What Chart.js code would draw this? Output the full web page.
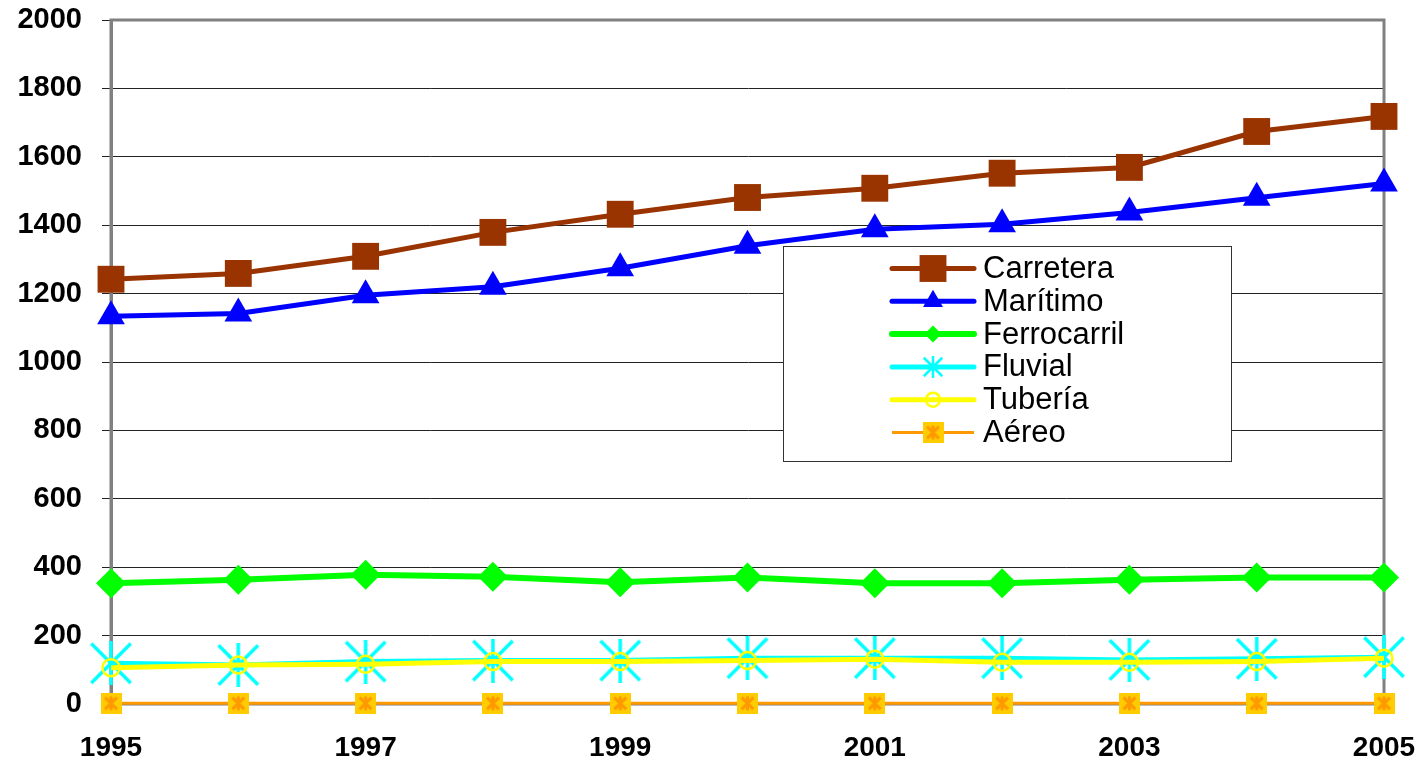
<!DOCTYPE html>
<html lang="es">
<head>
<meta charset="utf-8">
<title>Transporte de mercancías 1995-2005</title>
<script src="https://cdn.jsdelivr.net/npm/chart.js@4.4.1/dist/chart.umd.min.js"></script>
<style>
  html, body { margin: 0; padding: 0; background: #fff; }
  #wrap { width: 1425px; height: 763px; position: relative; }
</style>
</head>
<body>
<div id="wrap"><canvas id="chart"></canvas></div>
<script>
// Años (eje X)
const years = ['1995', '1996', '1997', '1998', '1999', '2000', '2001', '2002', '2003', '2004', '2005'];

// Series por modo de transporte
const carretera   = [1242, 1259, 1309, 1379, 1432, 1481, 1508, 1552, 1569, 1674, 1718];
const maritimo    = [1134, 1142, 1195, 1220, 1274, 1340, 1388, 1403, 1437, 1480, 1522];
const ferrocarril = [353, 363, 378, 372, 356, 370, 353, 353, 363, 370, 370];
const fluvial     = [119, 114, 124, 127, 127, 134, 134, 134, 129, 132, 137];
const tuberia     = [106, 114, 116, 124, 124, 127, 131, 122, 122, 124, 134];
const aereo       = [2, 2, 2, 2, 2, 2, 2, 2, 2, 2, 2];

// Eje Y
const yMin = 0, yMax = 2000, yStep = 200;

const FONT = '"Liberation Sans", Arial, Helvetica, sans-serif';

// Marcador asterisco (vertical + aspa)
function asterisk(size, lw, color) {
  const c = document.createElement('canvas');
  c.width = size; c.height = size;
  const g = c.getContext('2d');
  const m = lw / 2 + 0.5, e = size - m, h = size / 2;
  g.strokeStyle = color; g.lineWidth = lw; g.lineCap = 'butt';
  g.beginPath();
  g.moveTo(h, 0); g.lineTo(h, size);
  g.moveTo(m, m); g.lineTo(e, e);
  g.moveTo(e, m); g.lineTo(m, e);
  g.stroke();
  return c;
}

// Marcador cuadrado dorado con asterisco naranja
function boxedAsterisk(size, fill, color) {
  const c = document.createElement('canvas');
  c.width = size; c.height = size;
  const g = c.getContext('2d');
  g.fillStyle = fill; g.fillRect(0, 0, size, size);
  const p = size * 0.22, h = size / 2;
  g.strokeStyle = color; g.lineWidth = 3;
  g.beginPath();
  g.moveTo(h, p - 1); g.lineTo(h, size - p + 1);
  g.moveTo(p, p); g.lineTo(size - p, size - p);
  g.moveTo(size - p, p); g.lineTo(p, size - p);
  g.stroke();
  return c;
}

const starBig = asterisk(44, 3.5, '#00FFFF');
const starSmall = asterisk(22, 2.5, '#00FFFF');
const airBig = boxedAsterisk(21, '#FFCC00', '#FF9900');
const airSmall = boxedAsterisk(21, '#FFCC00', '#FF9900');

const series = [
  { label: 'Carretera', data: carretera, color: '#993300', width: 5, style: 'rect', radius: 19, lgStyle: 'rect', lgRadius: 19, fill: '#993300', cap: 'round' },
  { label: 'Marítimo', data: maritimo, color: '#0000FF', width: 5, style: 'triangle', radius: 16, lgStyle: 'triangle', lgRadius: 11.5, fill: '#0000FF', cap: 'round' },
  { label: 'Ferrocarril', data: ferrocarril, color: '#00FF00', width: 6, style: 'rectRot', radius: 15, lgStyle: 'rectRot', lgRadius: 8.5, fill: '#00FF00', cap: 'round' },
  { label: 'Fluvial', data: fluvial, color: '#00FFFF', width: 5, style: starBig, radius: 20, lgStyle: starSmall, lgRadius: 11, fill: '#00FFFF', cap: 'round' },
  { label: 'Tubería', data: tuberia, color: '#FFFF00', width: 5, style: 'circle', radius: 8.5, lgStyle: 'circle', lgRadius: 7, fill: 'rgba(0,0,0,0)', cap: 'round' },
  { label: 'Aéreo', data: aereo, color: '#FF9900', width: 3, style: airBig, radius: 10, lgStyle: airSmall, lgRadius: 10, fill: '#FFCC00', cap: 'butt' }
];

const datasets = series.map((s, i) => ({
  label: s.label,
  data: s.data,
  borderColor: s.color,
  borderWidth: s.width,
  backgroundColor: s.fill,
  pointStyle: s.style,
  pointRadius: s.radius,
  pointHoverRadius: s.radius,
  pointBackgroundColor: s.fill,
  pointBorderColor: s.color,
  pointBorderWidth: s.style === 'circle' ? 2.5 : 0,
  tension: 0,
  fill: false,
  clip: false,
  order: series.length - i
}));

// Borde gris del área de trazado
const plotFrame = {
  id: 'plotFrame',
  beforeDatasetsDraw(chart) {
    const { ctx, chartArea: a } = chart;
    ctx.save();
    ctx.strokeStyle = '#808080';
    ctx.lineWidth = 3;
    ctx.strokeRect(a.left, a.top, a.right - a.left, a.bottom - a.top);
    ctx.restore();
  }
};

// Leyenda con línea y marcador, dentro del área de trazado
const boxLegend = {
  id: 'boxLegend',
  afterDraw(chart) {
    const ctx = chart.ctx;
    const bx = 783, by = 246, bw = 448, bh = 215;
    ctx.save();
    ctx.fillStyle = '#fff';
    ctx.fillRect(bx, by, bw, bh);
    ctx.strokeStyle = '#333';
    ctx.lineWidth = 1;
    ctx.strokeRect(bx + 0.5, by + 0.5, bw, bh);
    const rowY0 = 268.5, rowH = 32.8;
    series.forEach((s, i) => {
      const y = rowY0 + i * rowH;
      ctx.strokeStyle = s.color;
      ctx.lineWidth = s.width;
      ctx.lineCap = s.cap;
      ctx.beginPath();
      ctx.moveTo(892, y);
      ctx.lineTo(974, y);
      ctx.stroke();
      ctx.fillStyle = s.fill;
      ctx.strokeStyle = s.color;
      ctx.lineWidth = s.lgStyle === 'circle' ? 2.5 : 0;
      Chart.helpers.drawPoint(ctx, {
        pointStyle: s.lgStyle,
        radius: s.lgRadius,
        rotation: 0,
        borderWidth: s.lgStyle === 'circle' ? 2.5 : 0
      }, 933, y);
      ctx.fillStyle = '#000';
      ctx.font = '31px ' + FONT;
      ctx.textAlign = 'left';
      ctx.textBaseline = 'middle';
      ctx.fillText(s.label, 983, y + 1);
    });
    ctx.restore();
  }
};

new Chart(document.getElementById('chart'), {
  type: 'line',
  data: { labels: years, datasets },
  plugins: [plotFrame, boxLegend],
  options: {
    responsive: true,
    maintainAspectRatio: false,
    devicePixelRatio: 1,
    animation: false,
    layout: { autoPadding: false, padding: { top: 20, right: 41, bottom: 0, left: 0 } },
    plugins: {
      legend: { display: false },
      tooltip: { enabled: false },
      title: { display: false }
    },
    scales: {
      x: {
        type: 'category',
        offset: false,
        grid: { display: false, drawTicks: false, tickLength: 0 },
        border: { display: false },
        ticks: {
          autoSkip: false,
          maxRotation: 0,
          minRotation: 0,
          padding: 27,
          color: '#000',
          font: { family: FONT, size: 28, weight: 'bold' },
          callback: (v, i) => (i % 2 === 0 ? years[i] : '')
        },
        afterFit(scale) {
          scale.height = 59;
          scale.paddingLeft = 0;
          scale.paddingRight = 0;
        }
      },
      y: {
        min: yMin,
        max: yMax,
        grid: { color: '#222', lineWidth: 1, tickLength: 9, tickColor: '#222', tickWidth: 1 },
        border: { display: true, color: '#808080', width: 3 },
        ticks: {
          stepSize: yStep,
          padding: 20,
          color: '#000',
          font: { family: FONT, size: 29, weight: 'bold' },
          callback: (v) => String(v)
        },
        afterFit(scale) {
          scale.width = 111;
          scale.paddingTop = 0;
          scale.paddingBottom = 0;
        }
      }
    }
  }
});
</script>
</body>
</html>
